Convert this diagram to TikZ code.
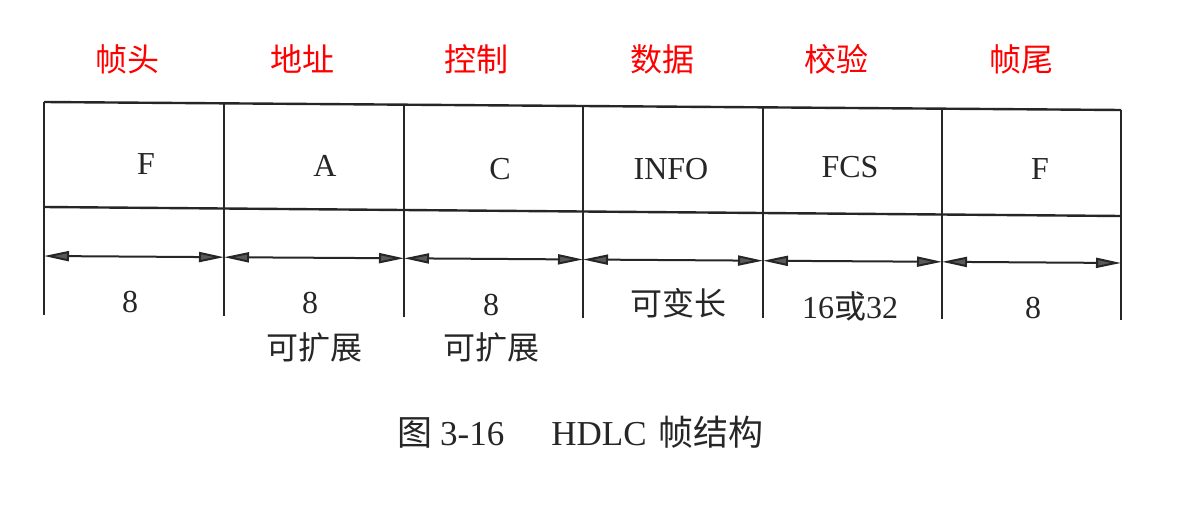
\documentclass[tikz,border=0pt]{standalone}
\usepackage{fontspec}
\setmainfont{Liberation Serif}
\newfontfamily\cjk{Noto Sans CJK SC}
\usetikzlibrary{arrows.meta}
\definecolor{inkc}{HTML}{262626}
\definecolor{headred}{HTML}{FF0000}
\tikzset{
  gridline/.style={draw=inkc, line width=2.4pt},
  dimarrow/.style={draw=inkc, line width=2pt,
    {Triangle[length=25pt,width=10pt,fill=gray!70!black]}-{Triangle[length=25pt,width=10pt,fill=gray!70!black]}},
  headtxt/.style={inner sep=0pt, text=headred, font=\cjk\fontsize{32}{36}\selectfont},
  celltxt/.style={inner sep=0pt, text=inkc, font=\fontsize{32}{36}\selectfont},
  captxt/.style={inner sep=0pt, text=inkc, font=\fontsize{35}{40}\selectfont},
}
\begin{document}
\begin{tikzpicture}[x=1pt,y=-1pt]
\useasboundingbox (0,0) rectangle (1202,508);
\fill[white] (0,0) rectangle (1202,508);
% column boundary coordinates (top, middle, arrow level, bottom)
\foreach \i/\x/\t/\m/\a/\b in {0/44/102/207/256/315, 1/224/103.3/208.5/257.2/315.8,
  2/404/104.7/210/258.3/316.7, 3/583/106/211.5/259.5/317.5, 4/763/107.3/213/260.7/318.3,
  5/942/108.7/214.5/261.8/319.2, 6/1121/110/216/263/320}{
  \coordinate (t\i) at (\x,\t);
  \coordinate (m\i) at (\x,\m);
  \coordinate (a\i) at (\x,\a);
  \coordinate (b\i) at (\x,\b);
}
\draw[gridline] (t0) -- (t6);
\draw[gridline] (m0) -- (m6);
\foreach \i in {0,...,6}{ \draw[gridline] (t\i) -- (b\i); }
\foreach \i/\j in {0/1,1/2,2/3,3/4,4/5,5/6}{ \draw[dimarrow] (a\i) -- (a\j); }
% red headings
\node[headtxt] (h1) at (127,59) {帧头};
\node[headtxt] (h2) at (302,59) {地址};
\node[headtxt] (h3) at (476,59) {控制};
\node[headtxt] (h4) at (662,59) {数据};
\node[headtxt] (h5) at (836,59) {校验};
\node[headtxt] (h6) at (1021,59) {帧尾};
% field names
\node[celltxt] (f1) at (146,164) {F};
\node[celltxt] (f2) at (325,166) {A};
\node[celltxt] (f3) at (500,169) {C};
\node[celltxt] (f4) at (671,169) {INFO};
\node[celltxt] (f5) at (850,167) {FCS};
\node[celltxt] (f6) at (1040,169) {F};
% lengths
\node[celltxt] (l1) at (130,302) {8};
\node[celltxt] (l2) at (310,303) {8};
\node[celltxt] (l3) at (491,305) {8};
\node[celltxt] (l4) at (678,303) {{\cjk 可变长}};
\node[celltxt] (l5) at (850,306) {16{\cjk 或}32};
\node[celltxt] (l6) at (1033,308) {8};
\node[celltxt] (e2) at (314,347) {{\cjk 可扩展}};
\node[celltxt] (e3) at (491,347) {{\cjk 可扩展}};
% caption
\node[captxt, anchor=west] (cap) at (397,432) {{\cjk 图}\hspace{8pt}3-16\hspace{47pt}HDLC\hspace{12pt}{\cjk 帧结构}};
\end{tikzpicture}
\end{document}
